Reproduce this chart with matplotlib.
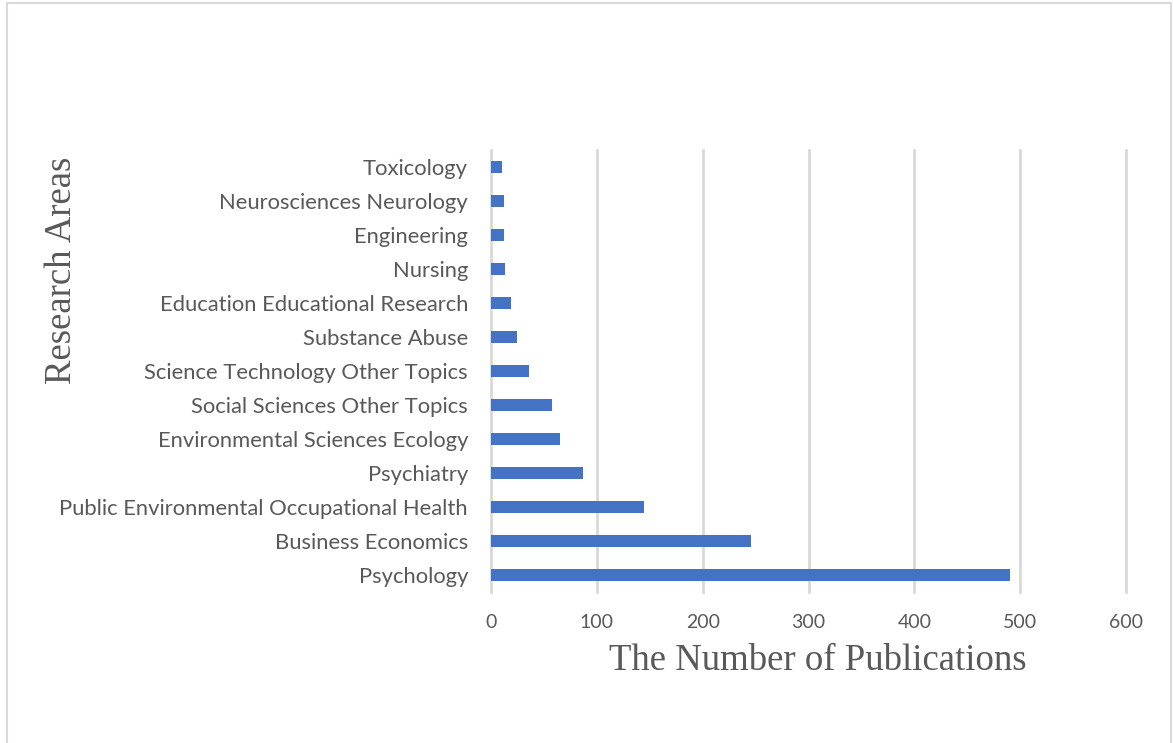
import matplotlib.pyplot as plt
from matplotlib.patches import Rectangle

areas = ['Toxicology', 'Neurosciences Neurology', 'Engineering', 'Nursing',
         'Education Educational Research', 'Substance Abuse',
         'Science Technology Other Topics', 'Social Sciences Other Topics',
         'Environmental Sciences Ecology', 'Psychiatry',
         'Public Environmental Occupational Health', 'Business Economics',
         'Psychology']
counts = [10, 12, 12, 13, 19, 25, 36, 58, 65, 87, 145, 246, 490]
xticks = [0, 100, 200, 300, 400, 500, 600]

W, H = 1173, 743
fig = plt.figure(figsize=(W / 100, H / 100), dpi=100)
# chart frame
fig.patches.append(Rectangle((7 / W, -0.01), (W - 9) / W, 1 - 3 / H + 0.01,
                             transform=fig.transFigure, fill=False,
                             edgecolor='#d9d9d9', linewidth=1.5))

ax = fig.add_axes([491 / W, 1 - 592 / H, (1126 - 491) / W, (592 - 150) / H])
y = list(range(len(areas)))
ax.barh(y, counts, height=0.38, color='#4472c4', zorder=3)
ax.set_ylim(len(areas) - 0.5, -0.5)
ax.set_xlim(0, 600)
ax.set_xticks(xticks)
ax.set_yticks(y)
ax.set_yticklabels(areas)
for xv in xticks:
    ax.axvline(xv, color='#d9d9d9', linewidth=2, zorder=1, clip_on=False)
for s in ax.spines.values():
    s.set_visible(False)
ax.tick_params(axis='both', length=0, labelcolor='#595959')
for lab in ax.get_yticklabels():
    lab.set_family('Lato')
    lab.set_fontsize(15.8)
for lab in ax.get_xticklabels():
    lab.set_family('Lato')
    lab.set_fontsize(14)
ax.tick_params(axis='y', pad=16.5)
ax.tick_params(axis='x', pad=16)

fig.text(818 / W, 1 - 661 / H, 'The Number of Publications', family='Liberation Serif',
         fontsize=26.5, color='#595959', ha='center', va='center')
fig.text(62 / W, 1 - 270 / H, 'Research Areas', family='Liberation Serif',
         fontsize=26.5, color='#595959', rotation=90, ha='center', va='center')

fig.savefig('out.png', dpi=100)
